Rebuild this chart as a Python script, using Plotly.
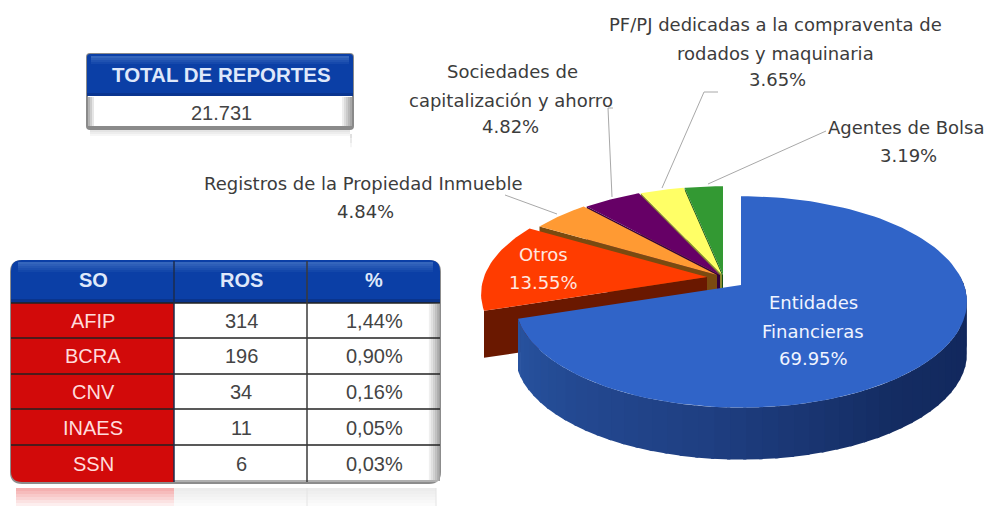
import math
import plotly.graph_objects as go

# ---------- data ----------
categories = ["Entidades Financieras", "Otros", "Registros de la Propiedad Inmueble",
              "Sociedades de capitalización y ahorro",
              "PF/PJ dedicadas a la compraventa de rodados y maquinaria", "Agentes de Bolsa"]
values = [69.95, 13.55, 4.84, 4.82, 3.65, 3.19]
total_title = "TOTAL DE REPORTES"
total_value = "21.731"
table_header = ["SO", "ROS", "%"]
table_so = ["AFIP", "BCRA", "CNV", "INAES", "SSN"]
table_ros = ["314", "196", "34", "11", "6"]
table_pct = ["1,44%", "0,90%", "0,16%", "0,05%", "0,03%"]

# ---------- style ----------
top_cols = ["#3064c8", "#ff3c00", "#ff9a33", "#660066", "#ffff66", "#339933"]
face_cols = ["#1c3f8c", "#6a1800", "#7a4a10", "#33003a", "#8a8a30", "#155015"]
apex = [(741, 285), (707, 277), (717, 275), (720, 275), (722, 275), (723, 275)]
RX, RY, K, DEPTH, DEPTH_FRONT = 223, 103, 0.16, 47, 52
FONT = "DejaVu Sans"
TXT = "#3c3c3c"

fig = go.Figure()


def proj(a, deg, drop=0.0):
    t = math.radians(deg)
    u, v = math.sin(t), math.cos(t)
    w = 1 + K * v
    return a[0] + RX * u / w, a[1] - RY * v / w + drop


def poly(pts, color):
    fig.add_trace(go.Scatter(
        x=[p[0] for p in pts] + [pts[0][0]], y=[p[1] for p in pts] + [pts[0][1]],
        mode="lines", fill="toself", fillcolor=color, line=dict(width=0, color=color),
        hoverinfo="skip", showlegend=False))


def mix(c1, c2, f):
    a = [int(c1[i:i + 2], 16) for i in (1, 3, 5)]
    b = [int(c2[i:i + 2], 16) for i in (1, 3, 5)]
    return "#%02x%02x%02x" % tuple(round(x + (y - x) * f) for x, y in zip(a, b))


starts = []
acc = 0.0
for val in values:
    starts.append(acc)
    acc += val * 3.6
scale = 360 / acc

# back to front
for i in [5, 4, 3, 2, 1]:
    a0 = starts[i] * scale
    a1 = a0 + values[i] * 3.6 * scale
    ap = apex[i]
    c0 = proj(ap, a0)
    poly([ap, c0, (c0[0], c0[1] + DEPTH), (ap[0], ap[1] + DEPTH)], face_cols[i])
    n = 30
    arc = [proj(ap, a0 + (a1 - a0) * j / n) for j in range(n + 1)]
    poly([ap] + arc, top_cols[i])

# front slice: outer wall in strips for shading, then top
a1 = values[0] * 3.6 * scale
ap = apex[0]
n = 48
stops = [(0.0, "#10255a"), (0.35, "#142c62"), (0.62, "#1f3f82"), (1.0, "#27529f")]
lo, hi = 85.0, a1
for j in range(n):
    s0 = lo + (hi - lo) * j / n
    s1 = min(lo + (hi - lo) * (j + 1.2) / n, hi)
    f = j / (n - 1)
    for (f0, c0), (f1, c1) in zip(stops, stops[1:]):
        if f0 <= f <= f1:
            col = mix(c0, c1, (f - f0) / (f1 - f0))
            break
    seg = [s0 + (s1 - s0) * m / 4 for m in range(5)]
    poly([proj(ap, d) for d in seg] + [proj(ap, d, DEPTH_FRONT) for d in reversed(seg)], col)
n = 120
poly([ap] + [proj(ap, a1 * j / n) for j in range(n + 1)], top_cols[0])

# ---------- leader lines ----------
leaders = [
    ([505, 557], [195, 214]),
    ([612, 608, 613], [197, 108, 108]),
    ([662, 704, 718], [188, 92, 92]),
    ([708, 826], [184, 131]),
]
for lx, ly in leaders:
    fig.add_trace(go.Scatter(x=lx, y=ly, mode="lines", line=dict(color="#a8a8a8", width=1),
                             hoverinfo="skip", showlegend=False))

annots = []


def text(x, y, s, size=18, color=TXT, family=FONT, bold=False):
    annots.append(dict(x=x, y=y, xref="x", yref="y", text=f"<b>{s}</b>" if bold else s,
                       showarrow=False, xanchor="center", yanchor="middle",
                       font=dict(family=family, size=size, color=color)))


def pct(i):
    return f"{values[i]:.2f}%"


text(813, 302, "Entidades", color="#f0f4ff")
text(813, 331, "Financieras", color="#f0f4ff")
text(813, 358, pct(0), color="#f0f4ff")
text(543, 254, categories[1], color="#ffe8e0")
text(543, 282, pct(1), color="#ffe8e0")
text(363, 183, categories[2])
text(365, 211, pct(2))
text(512, 71, "Sociedades de")
text(511, 100, "capitalización y ahorro")
text(510, 126, pct(3))
text(775, 24, "PF/PJ dedicadas a la compraventa de")
text(775, 53, "rodados y maquinaria")
text(777, 79, pct(4))
text(906, 127, categories[5])
text(908, 155, pct(5))

# ---------- panels ----------
shapes = []


def rect(x0, y0, x1, y1, color):
    shapes.append(dict(type="rect", xref="x", yref="y", x0=x0, y0=y0, x1=x1, y1=y1,
                       fillcolor=color, line=dict(width=0), layer="above"))


def vline(x, y0, y1, color, w=1):
    shapes.append(dict(type="line", xref="x", yref="y", x0=x, x1=x, y0=y0, y1=y1,
                       line=dict(color=color, width=w)))


def hline(y, x0, x1, color, w=1):
    shapes.append(dict(type="line", xref="x", yref="y", x0=x0, x1=x1, y0=y, y1=y,
                       line=dict(color=color, width=w)))


def rounded(x0, y0, x1, y1, r, color):
    p = (f"M{x0 + r},{y0} L{x1 - r},{y0} Q{x1},{y0} {x1},{y0 + r} L{x1},{y1 - r} "
         f"Q{x1},{y1} {x1 - r},{y1} L{x0 + r},{y1} Q{x0},{y1} {x0},{y1 - r} "
         f"L{x0},{y0 + r} Q{x0},{y0} {x0 + r},{y0} Z")
    shapes.append(dict(type="path", path=p, xref="x", yref="y", fillcolor=color, line=dict(width=0)))


def top_round(x0, y0, x1, y1, r, color):
    p = (f"M{x0},{y1} L{x0},{y0 + r} Q{x0},{y0} {x0 + r},{y0} L{x1 - r},{y0} "
         f"Q{x1},{y0} {x1},{y0 + r} L{x1},{y1} Z")
    shapes.append(dict(type="path", path=p, xref="x", yref="y", fillcolor=color, line=dict(width=0)))


def bot_left(x0, y0, x1, y1, r, color):
    p = (f"M{x0},{y0} L{x1},{y0} L{x1},{y1} L{x0 + r},{y1} Q{x0},{y1} {x0},{y1 - r} Z")
    shapes.append(dict(type="path", path=p, xref="x", yref="y", fillcolor=color, line=dict(width=0)))


def hgrad(x0, x1, y0, y1, c0, c1, steps=6):
    for s in range(steps):
        a = x0 + (x1 - x0) * s / steps
        b = x0 + (x1 - x0) * (s + 1) / steps
        rect(a, y0, b, y1, mix(c0, c1, s / (steps - 1)))


def vgrad(x0, x1, y0, y1, c0, c1, steps=6):
    for s in range(steps):
        a = y0 + (y1 - y0) * s / steps
        b = y0 + (y1 - y0) * (s + 1) / steps
        rect(x0, a, x1, b, mix(c0, c1, s / (steps - 1)))


# total box
rounded(86, 53, 354, 130, 4, "#8a8a8a")
rect(88, 96, 352, 126, "#ffffff")
top_round(87, 54, 353, 96, 3, "#0b3fa6")
vgrad(91, 349, 56, 66, "#3566bc", "#0b3fa6", 5)
rect(87, 93, 353, 96, "#0a3590")
hgrad(88, 96, 97, 126, "#b4b4b4", "#ffffff", 4)
hgrad(340, 352, 97, 126, "#ffffff", "#a8a8a8", 6)
vgrad(90, 130, 130, 138, "#e4e4e4", "#ffffff", 4)
vgrad(130, 350, 130, 138, "#e4e4e4", "#ffffff", 4)
vgrad(350, 352, 134, 152, "#e0e0e0", "#ffffff", 4)
text(221, 74, total_title, size=20.5, color="#dfe8fa", family="Liberation Sans", bold=True)
text(221, 113, total_value, size=20, color="#444444", family="Liberation Sans")

# main table
X0, X1, XA, XB = 10, 441, 174, 307
YS = [303, 338, 374, 409, 445, 482]
rounded(X0, 260, X1, 484, 12, "#8c8c8c")
rect(XA, 303, X1 - 1, 481, "#ffffff")
top_round(X0 + 1, 260, X1 - 1, 303, 11, "#0b3fa6")
vgrad(X0 + 8, X1 - 8, 262, 274, "#3566bc", "#0b3fa6", 6)
rect(X0 + 1, 299, X1 - 1, 303, "#0a348c")
bot_left(X0 + 1, 303, XA, 482, 11, "#d20a0a")
hgrad(X1 - 14, X1 - 1, 304, 481, "#ffffff", "#a0a0a0", 7)
for y in YS[:-1]:
    hline(y, X0 + 1, X1 - 1, "#222222", 1.5)
hline(481, XA, X1 - 4, "#b0b0b0", 2)
vline(XA, 261, 482, "#1c2c4c", 1.5)
vline(XB, 261, 482, "#3a3a3a", 1.5)
vgrad(16, 174, 488, 506, "#f4b0b0", "#fdeeee", 6)
vgrad(174, 436, 488, 506, "#ececec", "#fbfbfb", 6)
vline(307, 488, 506, "#e4e4e4")
vline(436, 488, 506, "#e4e4e4")

for xc, s in zip([93, 241, 374], table_header):
    text(xc, 280, s, size=20, color="#dfe8fa", family="Liberation Sans", bold=True)
for i, y in enumerate([321, 356, 392, 428, 464]):
    text(93, y, table_so[i], size=20, color="#ffdcdc", family="Liberation Sans")
    text(241, y, table_ros[i], size=20, color="#444444", family="Liberation Sans")
    text(374, y, table_pct[i], size=20, color="#444444", family="Liberation Sans")

fig.update_layout(
    width=988, height=506, margin=dict(l=0, r=0, t=0, b=0),
    paper_bgcolor="white", plot_bgcolor="white", showlegend=False,
    xaxis=dict(range=[0, 988], visible=False, fixedrange=True),
    yaxis=dict(range=[506, 0], visible=False, fixedrange=True),
    annotations=annots, shapes=shapes,
)
fig.write_html("out.html", config=dict(displayModeBar=False),
               post_script="document.body.style.margin='0';document.body.style.overflow='hidden';")
